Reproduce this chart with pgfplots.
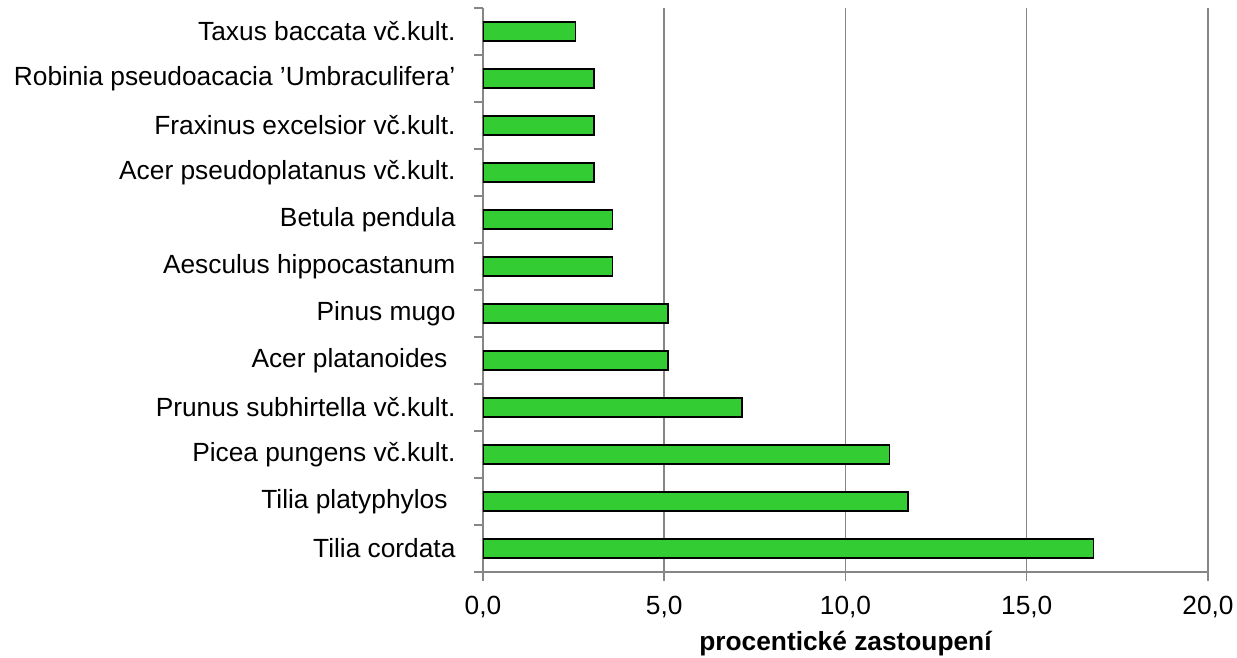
\documentclass[border=0pt]{standalone}
\usepackage{fontspec}
\setmainfont{Liberation Sans}
\usepackage{pgfplots}
\pgfplotsset{compat=1.18}
\definecolor{bargreen}{RGB}{51,204,51}
\definecolor{gridgray}{RGB}{134,134,134}
\begin{document}
\begin{tikzpicture}
\useasboundingbox (-483pt,-86pt) rectangle (754pt,572pt);
\begin{axis}[
  at={(0pt,0pt)}, anchor=south west,
  scale only axis, width=725pt, height=564pt,
  xbar, bar width=19pt,
  xmin=0, xmax=20, ymin=-0.5, ymax=11.5,
  axis x line*=bottom, axis y line*=left,
  axis line style={gridgray, line width=1.5pt, -},
  xtick={0,5,10,15,20},
  xmajorgrids, major grid style={gridgray, line width=1.5pt},
  ytick={-0.5,0.5,1.5,2.5,3.5,4.5,5.5,6.5,7.5,8.5,9.5,10.5,11.5},
  yticklabels={,Tilia cordata,Tilia platyphylos\kern8pt,Picea pungens vč.kult.,Prunus subhirtella vč.kult.,Acer platanoides\kern8pt,Pinus mugo,Aesculus hippocastanum,Betula pendula,Acer pseudoplatanus vč.kult.,Fraxinus excelsior vč.kult.,Robinia pseudoacacia ’Umbraculifera’,Taxus baccata vč.kult.},
  yticklabel style={yshift=-23.5pt, xshift=-15pt},
  xticklabel style={yshift=-12pt},
  major tick length=9pt, tick align=outside,
  every tick/.style={gridgray, line width=1.5pt},
  tick label style={font=\fontsize{26.3}{31}\selectfont},
  xticklabel style={/pgf/number format/.cd, fixed, fixed zerofill, precision=1, use comma, assume math mode=true},
  xlabel={procentické zastoupení},
  xlabel style={font=\bfseries\fontsize{26.3}{31}\selectfont, yshift=-6pt},
]
\addplot[fill=bargreen, draw=black, line width=1.5pt] coordinates {
(16.84,0) (11.73,1) (11.22,2) (7.14,3) (5.10,4) (5.10,5)
(3.57,6) (3.57,7) (3.06,8) (3.06,9) (3.06,10) (2.55,11)
};
\end{axis}
\end{tikzpicture}
\end{document}
